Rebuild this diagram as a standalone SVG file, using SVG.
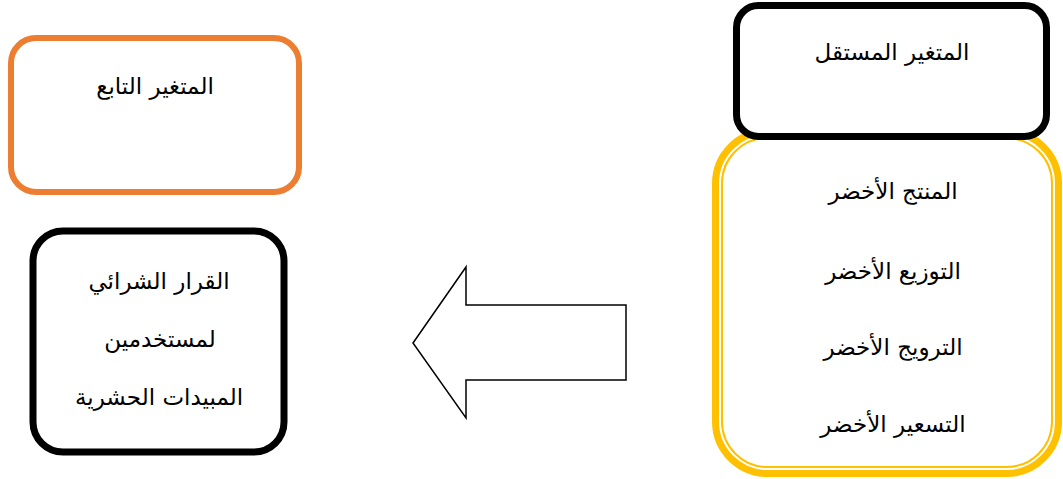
<svg xmlns="http://www.w3.org/2000/svg" width="1063" height="479" viewBox="0 0 1063 479">
<style>
text{font-family:"DejaVu Sans","Noto Sans",sans-serif;font-size:23px;fill:#000;text-anchor:middle;direction:rtl}
.blk{fill:#fff;stroke:#000;stroke-width:7}
</style>
<rect width="1063" height="479" fill="#fff"/>
<g id="independent-dims">
<rect x="717.5" y="133.5" width="339" height="338" rx="50" fill="#fff" stroke="#FFC000" stroke-width="11"/>
<rect x="720" y="136" width="334" height="333" rx="47.5" fill="none" stroke="#fff" stroke-width="2"/>
<text x="893" y="199">المنتج الأخضر</text>
<text x="893" y="279">التوزيع الأخضر</text>
<text x="893" y="355">الترويج الأخضر</text>
<text x="893" y="432">التسعير الأخضر</text>
</g>
<g id="independent">
<rect class="blk" x="736.5" y="5.5" width="310" height="131" rx="22"/>
<text x="892" y="60">المتغير المستقل</text>
</g>
<g id="dependent">
<rect x="11" y="38" width="288" height="154" rx="25" fill="#fff" stroke="#ED7D31" stroke-width="6"/>
<text x="155" y="94">المتغير التابع</text>
</g>
<g id="decision">
<rect class="blk" x="33" y="231" width="251" height="221" rx="30" stroke-width="6"/>
<text x="159" y="289">القرار الشرائي</text>
<text x="160" y="347">لمستخدمين</text>
<text x="159" y="405">المبيدات الحشرية</text>
</g>
<g id="connectors">
<polygon points="413,343 466,267 466,305 626,305 626,380 466,380 466,418" fill="#fff" stroke="#000" stroke-width="1.5"/>
</g>
</svg>
